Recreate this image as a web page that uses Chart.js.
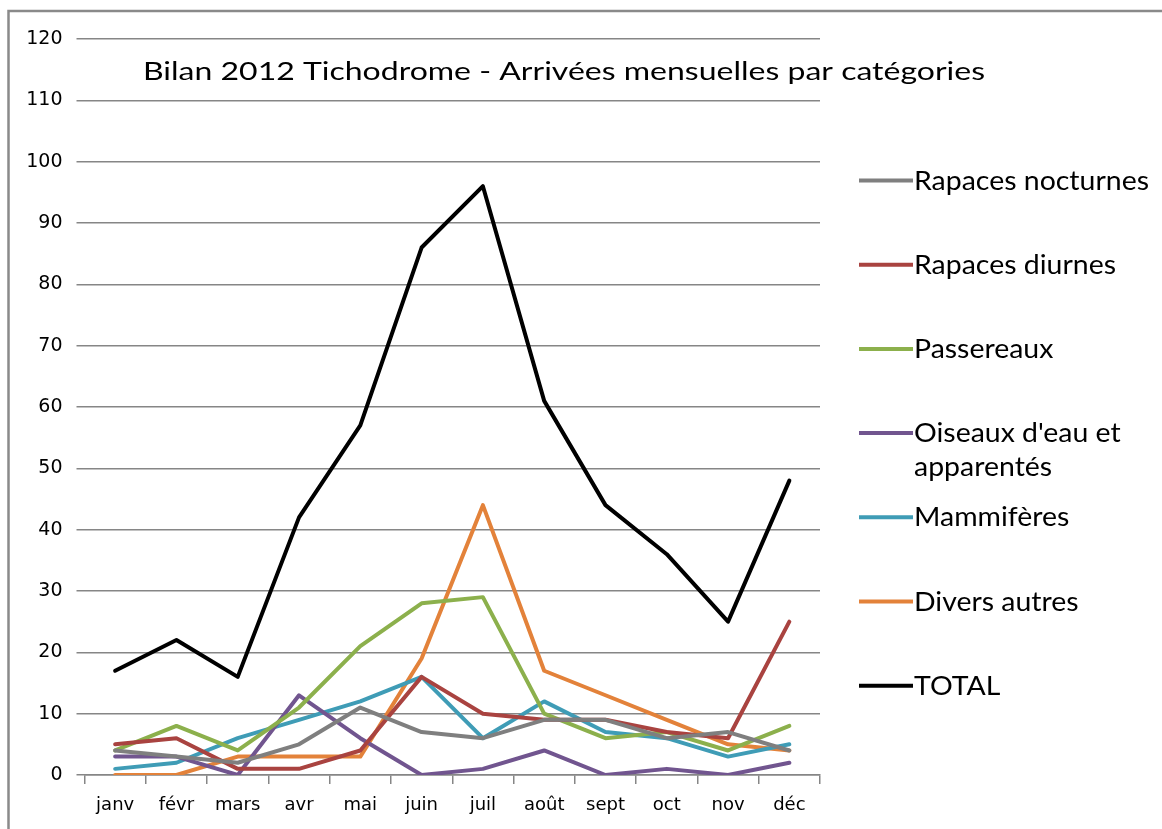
<!DOCTYPE html>
<html>
<head>
<meta charset="utf-8">
<script src="https://cdn.jsdelivr.net/npm/chart.js@4.4.1/dist/chart.umd.min.js"></script>
<style>
html,body{margin:0;padding:0;background:#fff;}
#wrap{position:absolute;left:0;top:0;width:1162px;height:829px;}
</style>
</head>
<body>
<div id="wrap"><canvas id="c" width="1162" height="829"></canvas></div>
<script>
const months = ['janv','févr','mars','avr','mai','juin','juil','août','sept','oct','nov','déc'];
const yTicks = [0,10,20,30,40,50,60,70,80,90,100,110,120];
const title = 'Bilan 2012 Tichodrome - Arrivées mensuelles par catégories';

const rapacesNocturnes = [4,3,2,5,11,7,6,9,9,6,7,4];
const rapacesDiurnes   = [5,6,1,1,4,16,10,9,9,7,6,25];
const passereaux       = [4,8,4,11,21,28,29,10,6,7,4,8];
const oiseauxEau       = [3,3,0,13,6,0,1,4,0,1,0,2];
const mammiferes       = [1,2,6,9,12,16,6,12,7,6,3,5];
const diversAutres     = [0,0,3,3,3,19,44,17,13,9,5,4];
const total            = [17,22,16,42,57,86,96,61,44,36,25,48];

const seriesNames = ['Rapaces nocturnes','Rapaces diurnes','Passereaux',"Oiseaux d'eau et apparentés",'Mammifères','Divers autres','TOTAL'];
const legendLines = [['Rapaces nocturnes'],['Rapaces diurnes'],['Passereaux'],["Oiseaux d'eau et","apparentés"],['Mammifères'],['Divers autres'],['TOTAL']];
const seriesColors = ['#7f7f7f','#a94340','#8cb04c','#71558f','#3f9cb6','#e3823a','#000000'];
const seriesData = [rapacesNocturnes,rapacesDiurnes,passereaux,oiseauxEau,mammiferes,diversAutres,total];

const FONT = 'Lato, "Open Sans", sans-serif';
const TICKFONT = '"DejaVu Sans", sans-serif';

function stretchedText(ctx, text, x, y, sx){
  ctx.save();
  ctx.translate(x, y);
  ctx.scale(sx, 1);
  ctx.fillText(text, 0, 0);
  ctx.restore();
}

const deco = {
  id:'deco',
  beforeDraw(chart){
    const ctx = chart.ctx;
    ctx.save();
    ctx.strokeStyle = '#8a8a8a';
    ctx.lineWidth = 2.5;
    ctx.beginPath();
    ctx.moveTo(8.5, 829);
    ctx.lineTo(8.5, 11);
    ctx.lineTo(1162, 11);
    ctx.stroke();
    ctx.restore();
  },
  afterDraw(chart){
    const ctx = chart.ctx;
    ctx.save();
    ctx.fillStyle = '#000';
    ctx.textBaseline = 'alphabetic';
    ctx.textAlign = 'left';
    // title
    ctx.font = '24.5px ' + FONT;
    const tw = ctx.measureText(title).width;
    stretchedText(ctx, title, 143, 79.5, 842 / tw);
    // legend
    ctx.font = '27.5px ' + FONT;
    const lw = ctx.measureText(legendLines[0][0]).width;
    const lsx = 235 / lw;
    chart.data.datasets.forEach((ds, i) => {
      const y = 180.5 + i * 84.2;
      ctx.strokeStyle = ds.borderColor;
      ctx.lineWidth = 4;
      ctx.beginPath();
      ctx.moveTo(859, y);
      ctx.lineTo(913, y);
      ctx.stroke();
      legendLines[i].forEach((t, k) => {
        stretchedText(ctx, t, 914, y + 9 + k * 34, lsx);
      });
    });
    ctx.restore();
  }
};

new Chart(document.getElementById('c'), {
  type:'line',
  data:{
    labels: months,
    datasets: seriesNames.map((n,i)=>({
      label:n,
      data:seriesData[i],
      borderColor:seriesColors[i],
      backgroundColor:seriesColors[i],
      borderWidth: 4,
      pointRadius:0,
      tension:0,
      fill:false,
      borderJoinStyle:'round',
      borderCapStyle:'round'
    }))
  },
  options:{
    responsive:false,
    animation:false,
    devicePixelRatio:1,
    layout:{padding:{top:39,right:342,bottom:0,left:0}},
    plugins:{legend:{display:false},title:{display:false},tooltip:{enabled:false}},
    scales:{
      x:{
        offset:true,
        afterFit(s){ s.height = 54; },
        grid:{offset:true,drawOnChartArea:false,drawTicks:true,tickLength:9,color:'#868686',lineWidth:1.5},
        border:{display:true,color:'#868686',width:1.5},
        ticks:{color:'#000',font:{family:TICKFONT,size:18},padding:11,maxRotation:0,autoSkip:false}
      },
      y:{
        min:0,max:120,
        afterFit(s){ s.width = 84.5; },
        afterBuildTicks(s){ s.ticks = yTicks.map(v=>({value:v})); },
        grid:{drawTicks:true,tickLength:8,color:'#868686',lineWidth:1.5},
        border:{display:false},
        ticks:{color:'#000',font:{family:TICKFONT,size:19},padding:14}
      }
    }
  },
  plugins:[deco]
});
</script>
</body>
</html>
